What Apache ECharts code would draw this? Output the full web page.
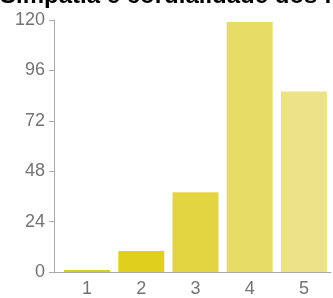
<!DOCTYPE html>
<html>
<head>
<meta charset="utf-8">
<script src="https://cdn.jsdelivr.net/npm/echarts@6/dist/echarts.min.js"></script>
<style>
  html, body { margin: 0; padding: 0; background: #fff; }
  #chart { width: 333px; height: 298px; }
</style>
</head>
<body>
<div id="chart"></div>
<script>
// dados
const categories = ['1', '2', '3', '4', '5']
const counts = [1, 10, 38, 119, 86]
const barColors = ['#dccb14', '#e0d01e', '#e3d541', '#e6dc66', '#ece386']
const yTicks = { min: 0, max: 120, interval: 24 }

const chart = echarts.init(document.getElementById('chart'))

chart.setOption({
  animation: false,
  textStyle: { fontFamily: '"Liberation Sans", Arial, sans-serif' },
  title: {
    text: 'Simpatia e cordialidade dos funcionários',
    left: 0,
    top: -16,
    padding: 0,
    textStyle: { fontSize: 24, fontWeight: 'bold', color: '#000' }
  },
  grid: { left: 60, width: 271, top: 20, bottom: 26 },
  xAxis: {
    type: 'category',
    data: categories,
    axisLine: { lineStyle: { color: '#aaa', width: 1 } },
    axisTick: { alignWithLabel: true, length: 5, lineStyle: { color: '#aaa' } },
    axisLabel: { color: '#737373', fontSize: 18, margin: 8 }
  },
  yAxis: {
    type: 'value',
    min: yTicks.min,
    max: yTicks.max,
    interval: yTicks.interval,
    offset: 6,
    splitLine: { show: false },
    axisLine: { show: true, lineStyle: { color: '#aaa', width: 1 } },
    axisTick: { show: true, length: 5, lineStyle: { color: '#aaa' } },
    axisLabel: { color: '#737373', fontSize: 18, margin: 9 }
  },
  graphic: [{
    // trecho da linha de base entre o eixo y deslocado e o grid
    type: 'line',
    shape: { x1: 53, y1: 272.5, x2: 60, y2: 272.5 },
    style: { stroke: '#aaa', lineWidth: 1 }
  }],
  series: [{
    type: 'bar',
    barWidth: 46,
    data: counts.map((v, i) => ({ value: v, itemStyle: { color: barColors[i] } }))
  }]
})
</script>
</body>
</html>
